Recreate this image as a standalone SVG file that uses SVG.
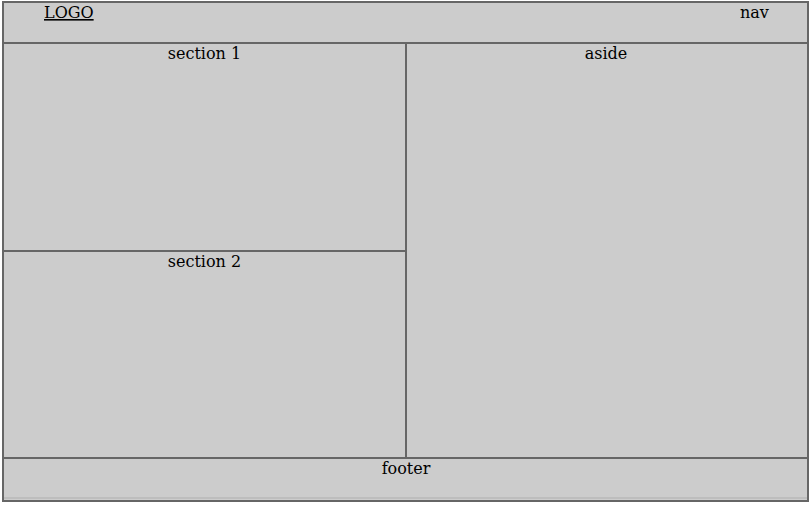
<svg xmlns="http://www.w3.org/2000/svg" width="811" height="506" viewBox="0 0 811 506">
<style>
.box{fill:#cccccc;stroke:#666666;stroke-width:2}
.t{font-family:"DejaVu Serif",serif;font-size:16px;fill:#000}
.c{text-anchor:middle}
</style>
<rect x="0" y="0" width="811" height="506" fill="#ffffff"/>
<g id="header">
<rect class="box" x="3" y="2" width="805" height="41"/>
<text class="t" x="44" y="18" text-decoration="underline">LOGO</text>
<text class="t" x="740" y="18">nav</text>
</g>
<g id="section1">
<rect class="box" x="3" y="43" width="403" height="208"/>
<text class="t c" x="204.5" y="59">section 1</text>
</g>
<g id="section2">
<rect class="box" x="3" y="251" width="403" height="207"/>
<text class="t c" x="204.5" y="267">section 2</text>
</g>
<g id="aside">
<rect class="box" x="406" y="43" width="402" height="415"/>
<text class="t c" x="606" y="59">aside</text>
</g>
<g id="footer">
<rect class="box" x="3" y="458" width="805" height="43"/>
<rect x="4" y="497" width="803" height="2" fill="#bdbdbd"/>
<text class="t c" x="406" y="474">footer</text>
</g>
<g id="connectors"></g>
</svg>
